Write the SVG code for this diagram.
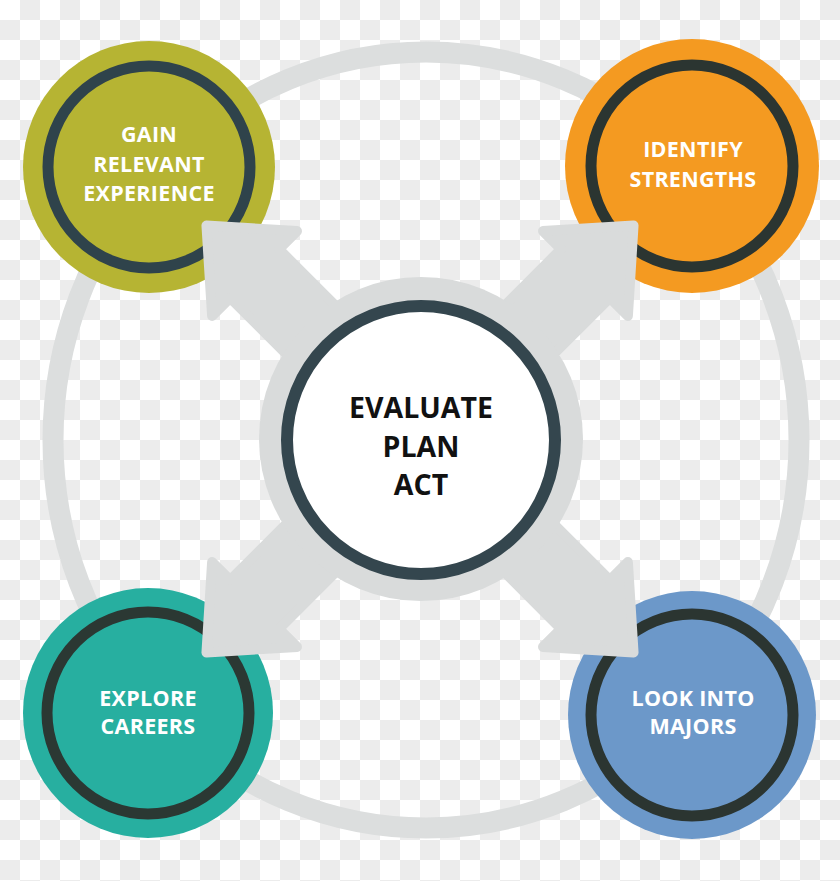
<svg xmlns="http://www.w3.org/2000/svg" width="840" height="881" viewBox="0 0 840 881">
  <defs>
    <pattern id="checker" x="0" y="0" width="40" height="40" patternUnits="userSpaceOnUse">
      <rect x="0" y="0" width="40" height="40" fill="#ffffff"/>
      <rect x="20" y="0" width="20" height="20" fill="#ececec"/>
      <rect x="0" y="20" width="20" height="20" fill="#ececec"/>
    </pattern>
    <polygon id="arrow" points="0,-302 60,-234 34.5,-234 34.5,0 -34.5,0 -34.5,-234 -60,-234"/>
  </defs>
  <style>
    .label { font-family: "Open Sans", "Liberation Sans", sans-serif; font-weight: 700; fill: #ffffff; font-size: 21.5px; letter-spacing: 0.3px; text-anchor: middle; }
    .center-label { font-family: "Open Sans", "Liberation Sans", sans-serif; font-weight: 700; fill: #111111; font-size: 28.5px; text-anchor: middle; }
    .arrow { fill: #d9dbdb; stroke: #d9dbdb; stroke-width: 10; stroke-linejoin: round; }
    .ring { fill: none; stroke-width: 11; }
  </style>

  <rect x="0" y="0" width="840" height="881" fill="url(#checker)"/>

  <g id="outer-ring">
    <ellipse cx="426" cy="440" rx="373" ry="388" fill="none" stroke="#dcdede" stroke-width="21"/>
  </g>

  <g id="node-gain">
    <circle cx="149" cy="167" r="126" fill="#b6b433"/>
    <circle class="ring" cx="149" cy="167" r="101" stroke="#2f434b"/>
    <text class="label" x="149" y="142">GAIN</text>
    <text class="label" x="149" y="172">RELEVANT</text>
    <text class="label" x="149" y="201">EXPERIENCE</text>
  </g>

  <g id="node-identify">
    <circle cx="692" cy="166" r="127" fill="#f49a21"/>
    <circle class="ring" cx="692" cy="166" r="101" stroke="#2b3531"/>
    <text class="label" x="693" y="157">IDENTIFY</text>
    <text class="label" x="693" y="187">STRENGTHS</text>
  </g>

  <g id="node-explore">
    <circle cx="148" cy="713" r="125" fill="#27afa0"/>
    <circle class="ring" cx="148" cy="713" r="101" stroke="#2b3833"/>
    <text class="label" x="148" y="706">EXPLORE</text>
    <text class="label" x="148" y="734">CAREERS</text>
  </g>

  <g id="node-majors">
    <circle cx="692" cy="715" r="124" fill="#6c98c9"/>
    <circle class="ring" cx="692" cy="715" r="101" stroke="#2b3531"/>
    <text class="label" x="693" y="706">LOOK INTO</text>
    <text class="label" x="693" y="734">MAJORS</text>
  </g>

  <g id="connectors">
    <use href="#arrow" class="arrow" transform="translate(420,439) rotate(-45)"/>
    <use href="#arrow" class="arrow" transform="translate(420,439) rotate(45)"/>
    <use href="#arrow" class="arrow" transform="translate(420,439) rotate(-135)"/>
    <use href="#arrow" class="arrow" transform="translate(420,439) rotate(135)"/>
  </g>

  <g id="node-center">
    <circle cx="421" cy="439" r="162" fill="#d9dbdb"/>
    <circle cx="421" cy="440" r="134" fill="#ffffff" stroke="#34464e" stroke-width="12"/>
    <text class="center-label" x="421" y="418">EVALUATE</text>
    <text class="center-label" x="421" y="457">PLAN</text>
    <text class="center-label" x="421" y="495">ACT</text>
  </g>
</svg>
